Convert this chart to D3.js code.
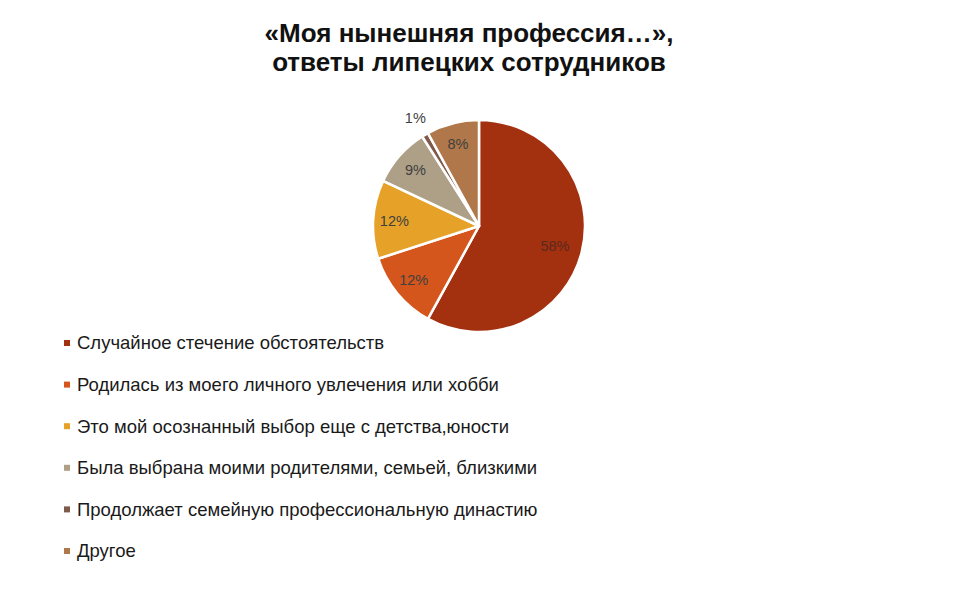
<!DOCTYPE html>
<html><head><meta charset="utf-8">
<script src="https://cdn.jsdelivr.net/npm/d3@7"></script>
<style>body{margin:0;background:#fff;}</style>
</head><body>
<svg id="chart" width="960" height="600"></svg>
<script>
const categories = [
  "Случайное стечение обстоятельств",
  "Родилась из моего личного увлечения или хобби",
  "Это мой осознанный выбор еще с детства,юности",
  "Была выбрана моими родителями, семьей, близкими",
  "Продолжает семейную профессиональную династию",
  "Другое"
];
const values = [58, 12, 12, 9, 1, 8];
const labels = ["58%", "12%", "12%", "9%", "1%", "8%"];
const colors = ["#A3300F", "#D5561C", "#E6A228", "#AE9F87", "#7E5A4A", "#B0784A"];
const titleLines = ["«Моя нынешняя профессия…»,", "ответы липецких сотрудников"];

const svg = d3.select("#chart");
const font = "Arial, 'Liberation Sans', sans-serif";

svg.append("g").selectAll("text").data(titleLines).join("text")
  .attr("x", 469).attr("y", (d, i) => 42 + i * 29)
  .attr("text-anchor", "middle")
  .attr("font-family", font).attr("font-weight", "bold")
  .attr("font-size", 26).attr("fill", "#111")
  .text(d => d);

const cx = 479, cy = 226, R = 106;
const pie = d3.pie().sort(null).value(d => d)(values);
const arc = d3.arc().innerRadius(0).outerRadius(R);
const g = svg.append("g").attr("transform", `translate(${cx},${cy})`);
g.selectAll("path").data(pie).join("path")
  .attr("d", arc)
  .attr("fill", (d, i) => colors[i])
  .attr("stroke", "#fff").attr("stroke-width", 2.5).attr("stroke-linejoin", "round");

const labelArc = d3.arc().innerRadius(R * 0.8).outerRadius(R * 0.8);
const outArc = d3.arc().innerRadius(R * 1.18).outerRadius(R * 1.18);
const bigArc = d3.arc().innerRadius(R * 0.74).outerRadius(R * 0.74);
g.selectAll("text").data(pie).join("text")
  .attr("transform", (d, i) => {
    const c = i === 4 ? outArc.centroid(d) : (i === 0 ? bigArc.centroid(d) : labelArc.centroid(d));
    return `translate(${c[0]},${c[1]})`;
  })
  .attr("text-anchor", "middle").attr("dy", "0.35em")
  .attr("font-family", font).attr("font-size", 14.5)
  .attr("fill", (d, i) => i === 0 ? "#5a2a1e" : "#404040")
  .text((d, i) => labels[i]);

const leg = svg.append("g").selectAll("g").data(categories).join("g")
  .attr("transform", (d, i) => `translate(0,${343 + i * 41.6})`);
leg.append("rect").attr("x", 64).attr("y", -3).attr("width", 6).attr("height", 6)
  .attr("fill", (d, i) => colors[i]);
leg.append("text").attr("x", 77).attr("dy", "0.35em")
  .attr("font-family", font).attr("font-size", 18.5).attr("fill", "#1a1a1a")
  .text(d => d);
</script>
</body></html>
